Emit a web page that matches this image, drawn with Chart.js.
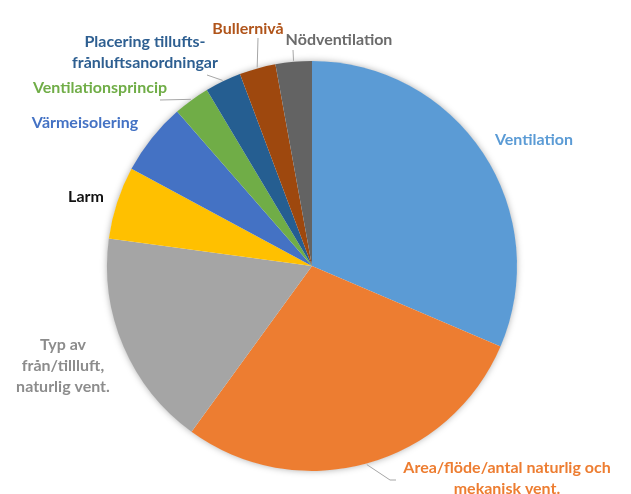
<!DOCTYPE html>
<html>
<head>
<meta charset="utf-8">
<script src="https://cdn.jsdelivr.net/npm/chart.js@4"></script>
<style>
html,body{margin:0;padding:0;background:#fff;}
#wrap{width:631px;height:494px;position:relative;}
</style>
</head>
<body>
<div id="wrap"><canvas id="c" width="631" height="494"></canvas></div>
<script>
const categories = [
  "Ventilation",
  "Area/flöde/antal naturlig och mekanisk vent.",
  "Typ av från/tillluft, naturlig vent.",
  "Larm",
  "Värmeisolering",
  "Ventilationsprincip",
  "Placering tillufts- frånluftsanordningar",
  "Bullernivå",
  "Nödventilation"
];
const values = [11, 10, 6, 2, 2, 1, 1, 1, 1];
const sliceColors = ["#5B9BD5","#ED7D31","#A5A5A5","#FFC000","#4472C4","#70AD47","#255E91","#9E480E","#636363"];

// Label layout (text lines, text centre, colour, optional leader end point)
const labelLines = [
  ["Ventilation"],
  ["Area/flöde/antal naturlig och","mekanisk vent."],
  ["Typ av","från/tillluft,","naturlig vent."],
  ["Larm"],
  ["Värmeisolering"],
  ["Ventilationsprincip"],
  ["Placering tillufts-","frånluftsanordningar"],
  ["Bullernivå"],
  ["Nödventilation"]
];
const labelPos = [[534,140],[507,468],[63,345],[86,197],[85,123],[100,88],[145,42],[248,29],[339,40]];
const labelColors = ["#5B9BD5","#ED7D31","#8C8C8C","#111111","#4472C4","#70AD47","#2E5F91","#B0541A","#6B6B6B"];
const leaderEnds = [null,[[390,480],[396,480]],null,null,null,[[160,100]],[[207,75]],[[258,38]],[[293,50]]];

const shadowPlugin = {
  id: 'pieShadow',
  beforeDatasetsDraw(chart){
    const arc = chart.getDatasetMeta(0).data[0];
    if(!arc) return;
    const ctx = chart.ctx;
    ctx.save();
    ctx.shadowColor = 'rgba(0,0,0,0.35)';
    ctx.shadowBlur = 7;
    ctx.beginPath();
    ctx.arc(arc.x, arc.y, arc.outerRadius - 0.5, 0, Math.PI*2);
    ctx.fillStyle = '#ffffff';
    ctx.fill();
    ctx.restore();
  }
};

const labelPlugin = {
  id: 'pieLabels',
  afterDatasetsDraw(chart){
    const ctx = chart.ctx;
    const meta = chart.getDatasetMeta(0);
    ctx.save();
    meta.data.forEach((arc, i) => {
      const mid = (arc.startAngle + arc.endAngle)/2;
      const ends = leaderEnds[i];
      if(ends){
        ctx.beginPath();
        ctx.strokeStyle = '#A6A6A6';
        ctx.lineWidth = 1;
        ctx.moveTo(arc.x + Math.cos(mid)*(arc.outerRadius+1), arc.y + Math.sin(mid)*(arc.outerRadius+1));
        ends.forEach(p => ctx.lineTo(p[0], p[1]));
        ctx.stroke();
      }
      ctx.font = 'bold 16px Lato, "Open Sans", sans-serif';
      ctx.fillStyle = labelColors[i];
      ctx.textAlign = 'center';
      ctx.textBaseline = 'middle';
      const lines = labelLines[i];
      lines.forEach((t, k) => ctx.fillText(t, labelPos[i][0], labelPos[i][1] + k*21));
    });
    ctx.restore();
  }
};

new Chart(document.getElementById('c'), {
  type: 'pie',
  data: {
    labels: categories,
    datasets: [{
      data: values,
      backgroundColor: sliceColors,
      borderWidth: 0
    }]
  },
  options: {
    responsive: false,
    animation: false,
    layout: { padding: { top: 61, bottom: 23, left: 0, right: 7 } },
    plugins: { legend: { display: false }, tooltip: { enabled: false } }
  },
  plugins: [shadowPlugin, labelPlugin]
});
</script>
</body>
</html>
